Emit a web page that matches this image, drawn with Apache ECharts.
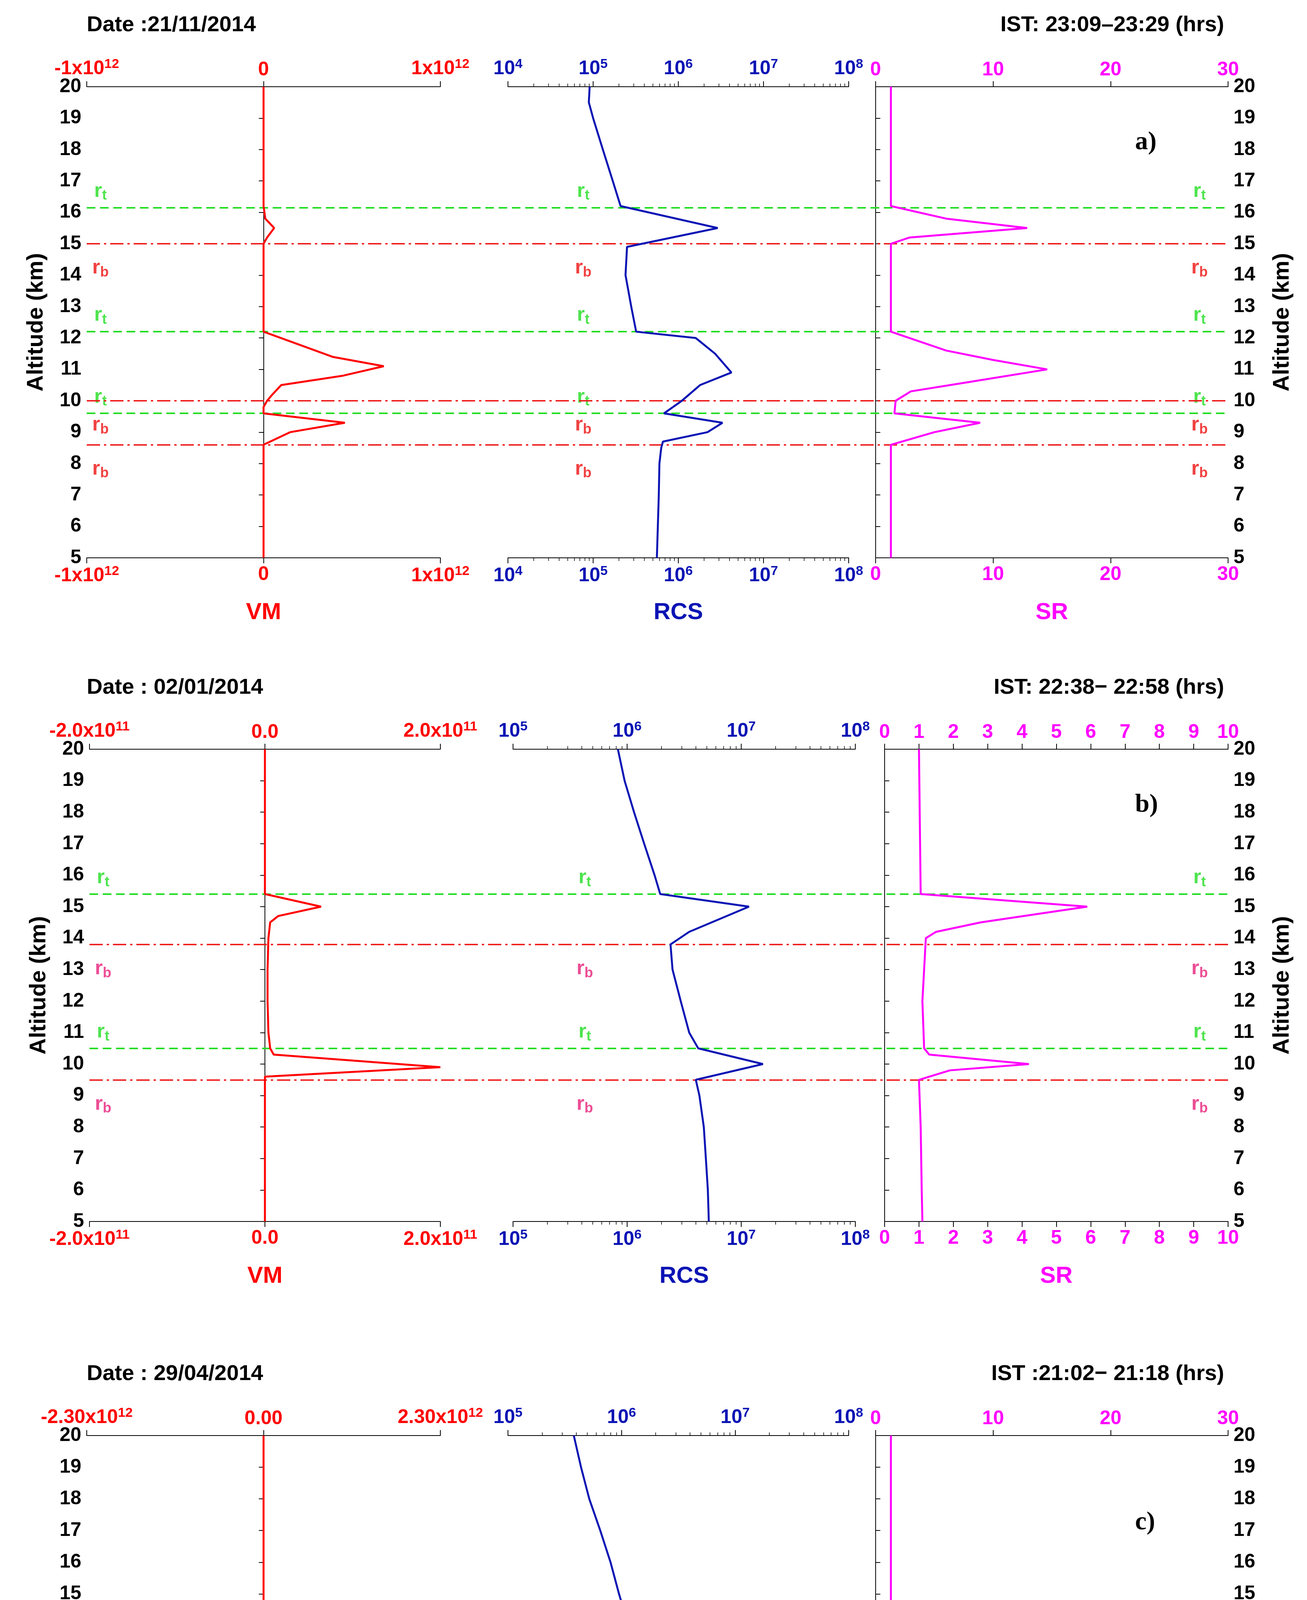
<!DOCTYPE html>
<html><head><meta charset="utf-8">
<script src="https://cdn.jsdelivr.net/npm/echarts@6/dist/echarts.min.js"></script>
<style>html,body{margin:0;background:#fff}#c{width:3345px;height:5096px}</style>
</head><body><div id="c"></div>
<script>
// ---------- DATA ----------
var altVmA=[5,8.6,9.0,9.3,9.6,9.8,10.0,10.2,10.5,10.8,11.1,11.4,12.2,15.0,15.2,15.5,15.8,16.2,20];
var vmA=[0,0,0.15e12,0.46e12,0,0,0.02e12,0.05e12,0.1e12,0.45e12,0.68e12,0.39e12,0,0,0.02e12,0.06e12,0.01e12,0,0];
var altRcsA=[5,6,7,8,8.5,8.7,9.0,9.3,9.6,10.0,10.5,10.9,11.5,12.0,12.2,13,14,14.9,15.5,16.2,17,18,19,19.5,20];
var rcsA=[5.6e5,5.75e5,5.9e5,6.0e5,6.3e5,6.6e5,2.2e6,3.3e6,6.8e5,1.1e6,1.8e6,4.2e6,2.7e6,1.6e6,3.2e5,2.8e5,2.4e5,2.5e5,2.9e6,2.1e5,1.7e5,1.3e5,1.0e5,8.9e4,9.1e4];
var altSrA=[5,8.6,9.0,9.3,9.6,10.0,10.3,10.6,11.0,11.3,11.6,12.2,15.0,15.2,15.5,15.8,16.2,20];
var srA=[1.3,1.3,5,8.9,1.6,1.7,3,8,14.6,10,6,1.3,1.3,2.9,12.9,6,1.3,1.3];

var altVmB=[5,9.5,9.6,9.9,10.3,10.5,11,12,13,14,14.5,14.7,15.0,15.4,20];
var vmB=[0,0,0,2.0e11,0.1e11,0.06e11,0.04e11,0.03e11,0.03e11,0.04e11,0.06e11,0.15e11,0.64e11,0,0];
var altRcsB=[5,6,7,8,9,9.5,10.0,10.5,11,12,13,13.8,14.2,15.0,15.4,16,17,18,19,20];
var rcsB=[5.2e6,5.1e6,4.9e6,4.7e6,4.3e6,4.0e6,1.55e7,4.2e6,3.5e6,2.95e6,2.5e6,2.4e6,3.5e6,1.17e7,1.95e6,1.74e6,1.41e6,1.15e6,9.5e5,8.3e5];
var altSrB=[5,6,8,9.5,9.8,10.0,10.3,10.5,12,14.0,14.2,14.5,15.0,15.4,20];
var srB=[1.1,1.08,1.05,1.0,1.9,4.2,1.3,1.15,1.1,1.2,1.5,2.8,5.9,1.05,1.0];

var altVmC=[5,10.8,11.1,11.3,11.7,12.0,12.3,12.6,13.2,20];
var vmC=[0,0,0.05e12,0.86e12,1.3e12,2.3e12,1.3e12,0.73e12,0,0];
var altRcsC=[5,7,9,10.5,10.8,11.0,11.5,11.9,12.2,12.5,12.8,13.2,13.5,14,15,16,17,18,19,20];
var rcsC=[3.5e6,3.2e6,2.9e6,2.7e6,2.5e6,4e6,1.35e7,2.5e7,2.9e7,1.9e7,5.8e6,1.74e6,1.3e6,1.15e6,9.5e5,8e5,6.5e5,5.2e5,4.4e5,3.8e5];
var altSrC=[5,8,10.5,10.8,11.0,11.4,11.8,12.1,12.3,12.5,12.8,13.0,13.2,14,20];
var srC=[1.3,1.4,2,3,3,11.3,20,22.7,21.5,17.8,9,3.5,1.5,1.3,1.3];

var topsA=[16.15,12.2,9.6], basesA=[15.0,10.0,8.6];
var topsB=[15.4,10.5], basesB=[13.8,9.5];
var topsC=[13.2], basesC=[10.8];

var vmLabelsA=['-1x10^12','0','1x10^12'];
var vmLabelsB=['-2.0x10^11','0.0','2.0x10^11'];
var vmLabelsC=['-2.30x10^12','0.00','2.30x10^12'];
var datesTxt=['Date :21/11/2014','Date : 02/01/2014','Date : 29/04/2014'];
var istTxt=['IST: 23:09\u201323:29 (hrs)','IST: 22:38\u2212 22:58 (hrs)','IST :21:02\u2212 21:18 (hrs)'];
var tagTxt=['a)','b)','c)'];

// ---------- LAYOUT ----------
var FONT='Liberation Sans';
var panels=[
 {top:222,h:1206,cols:[[222,1127],[1300,2172],[2241,3143]],vm:[altVmA,vmA,-1e12,1e12,1e12,vmLabelsA],rcs:[altRcsA,rcsA,1e4,1e8],sr:[altSrA,srA,0,30,10],tops:topsA,bases:basesA,rb:'#ee1111'},
 {top:1918,h:1209,cols:[[229,1127],[1313,2189],[2264,3143]],vm:[altVmB,vmB,-2e11,2e11,2e11,vmLabelsB],rcs:[altRcsB,rcsB,1e5,1e8],sr:[altSrB,srB,0,10,1],tops:topsB,bases:basesB,rb:'#e8207a'},
 {top:3675,h:1216,cols:[[222,1127],[1300,2172],[2241,3143]],vm:[altVmC,vmC,-2.3e12,2.3e12,2.3e12,vmLabelsC],rcs:[altRcsC,rcsC,1e5,1e8],sr:[altSrC,srC,0,30,10],tops:topsC,bases:basesC,rb:'#e8207a'}
];
var RED='#ff0000',BLUE='#0a14b4',MAG='#ff00ff',GREEN='#22dd22';
function pairs(a,v){return v.map(function(x,i){return [x,a[i]];});}
function supFmt(s){var p=s.split('^');return p.length>1?p[0]+'{s|'+p[1]+'}':s;}
var grid=[],xAxis=[],yAxis=[],series=[],graphic=[];
function lbl(color){return {color:color,fontFamily:FONT,fontWeight:'bold',fontSize:50,margin:18,
  rich:{s:{color:color,fontFamily:FONT,fontWeight:'bold',fontSize:34,verticalAlign:'top',padding:[0,0,22,0]}}};}
panels.forEach(function(p,pi){
  var kinds=['vm','rcs','sr'];
  kinds.forEach(function(k,ci){
    var gi=grid.length;
    grid.push({left:p.cols[ci][0],width:p.cols[ci][1]-p.cols[ci][0],top:p.top,height:p.h});
    var color=[RED,BLUE,MAG][ci];
    var base={gridIndex:gi,axisLine:{show:true,lineStyle:{color:'#000',width:2}},
      axisTick:{show:true,inside:false,length:14,lineStyle:{color:'#000',width:2}},splitLine:{show:false}};
    var xa;
    if(k==='vm'){var d=p.vm;xa={type:'value',min:d[2],max:d[3],interval:d[4],
        axisLabel:Object.assign(lbl(color),{formatter:(function(labels,mn,iv){return function(v){return supFmt(labels[Math.round((v-mn)/iv)]);};})(d[5],d[2],d[4])})};}
    else if(k==='rcs'){var d=p.rcs;xa={type:'log',logBase:10,min:d[2],max:d[3],
        minorTick:{show:true,splitNumber:9,length:8,lineStyle:{color:'#000',width:1.5}},
        axisLabel:Object.assign(lbl(color),{formatter:function(v){return '10{s|'+Math.round(Math.log10(v))+'}';}})};}
    else {var d=p.sr;xa={type:'value',min:d[2],max:d[3],interval:d[4],axisLabel:lbl(color)};}
    var bottom=Object.assign({},base,xa,{position:'bottom',name:['VM','RCS','SR'][ci],nameLocation:'middle',nameGap:110,
      nameTextStyle:{color:color,fontFamily:FONT,fontWeight:'bold',fontSize:60}});
    var topA=Object.assign({},base,xa,{position:'top'});
    xAxis.push(bottom);var xTopIdx=xAxis.length;xAxis.push(topA);
    var ya={type:'value',gridIndex:gi,min:5,max:20,interval:1,splitLine:{show:false},
      axisTick:{show:ci!==1,length:12,lineStyle:{color:'#000',width:2}},
      axisLine:{show:ci!==1,lineStyle:{color:'#000',width:2}},
      axisLabel:{show:ci!==1,color:'#000',fontFamily:FONT,fontWeight:'bold',fontSize:50,margin:14},
      position:ci===2?'right':'left'};
    if(ci!==1){ya.name='Altitude (km)';ya.nameLocation='middle';ya.nameGap=ci===0?100:110;
      ya.nameTextStyle={color:'#000',fontFamily:FONT,fontWeight:'bold',fontSize:58};}
    yAxis.push(ya);
    var d2=p[k];
    series.push({type:'line',xAxisIndex:xTopIdx-1,yAxisIndex:gi,data:pairs(d2[0],d2[1]),showSymbol:false,
      lineStyle:{color:color,width:5},z:5});
  });
  var gi=grid.length;
  grid.push({left:p.cols[0][0],width:p.cols[2][1]-p.cols[0][0],top:p.top,height:p.h});
  xAxis.push({type:'value',gridIndex:gi,min:0,max:1,show:false});
  yAxis.push({type:'value',gridIndex:gi,min:5,max:20,show:false});
  var ml=[];
  p.tops.forEach(function(t){ml.push({yAxis:t,lineStyle:{color:GREEN,type:[22,12],width:4}});});
  p.bases.forEach(function(b){ml.push({yAxis:b,lineStyle:{color:'#ee1111',type:[34,10,6,10],width:3.5}});});
  var xs=[0.012,0.435,0.975];
  var pts=[];
  p.tops.forEach(function(t){xs.forEach(function(x){pts.push({value:[x,t],label:{formatter:'{m|r}{s|t}',offset:[0,-42],rich:{m:{color:GREEN},s:{color:GREEN}}}});});});
  p.bases.forEach(function(b){xs.forEach(function(x){pts.push({value:[x,b],label:{formatter:'{m|r}{s|b}',offset:[0,62],rich:{m:{color:p.rb},s:{color:p.rb}}}});});});
  series.push({type:'scatter',xAxisIndex:xAxis.length-1,yAxisIndex:gi,symbolSize:0,data:pts,silent:true,
    markLine:{silent:true,symbol:'none',label:{show:false},data:ml,animation:false},
    label:{show:true,position:'inside',
      rich:{m:{fontFamily:FONT,fontWeight:'bold',fontSize:52},s:{fontFamily:FONT,fontWeight:'bold',fontSize:36,verticalAlign:'bottom',padding:[24,0,0,0]}}}});
  graphic.push({type:'text',left:222,top:p.top-185,style:{text:datesTxt[pi],font:'bold 56px "'+FONT+'"',fill:'#000'}});
  graphic.push({type:'text',right:3345-3143+10,top:p.top-185,style:{text:istTxt[pi],font:'bold 56px "'+FONT+'"',fill:'#000'}});
  graphic.push({type:'text',left:2905,top:p.top+(pi===2?190:110),style:{text:tagTxt[pi],font:'bold 66px "Liberation Serif"',fill:'#000'}});
});
var chart=echarts.init(document.getElementById('c'));
chart.setOption({animation:false,backgroundColor:'#fff',grid:grid,xAxis:xAxis,yAxis:yAxis,series:series,graphic:graphic});
</script></body></html>
